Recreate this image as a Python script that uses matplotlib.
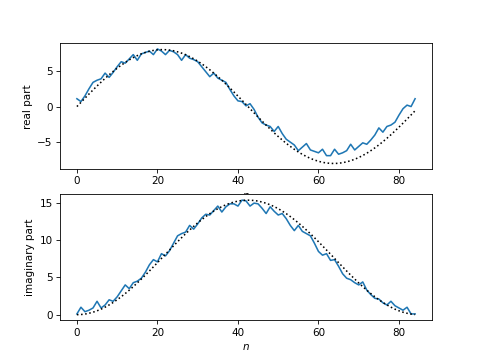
import numpy as np
import matplotlib
matplotlib.use('Agg')
import matplotlib.pyplot as plt

n = np.arange(85)

# noisy estimate (blue)
real_est = [1.1, 0.7, 1.5, 2.5, 3.4, 3.7, 3.9, 4.7, 4.1, 4.8,
            5.6, 6.3, 6.1, 6.7, 7.3, 6.5, 7.4, 7.6, 7.8, 7.3,
            8.1, 7.8, 7.3, 7.9, 7.7, 7.3, 6.5, 7.3, 6.8, 6.6,
            6.3, 5.6, 4.9, 4.2, 4.7, 4.0, 3.7, 3.4, 2.4, 1.5,
            0.8, 0.7, 0.1, 0.4, -0.4, -1.5, -2.3, -2.6, -2.8, -3.5,
            -2.8, -3.8, -4.6, -5.0, -5.4, -6.2, -5.7, -5.2, -6.1, -6.3,
            -6.5, -6.0, -6.9, -6.9, -6.0, -6.7, -6.5, -6.2, -5.3, -6.1,
            -5.6, -5.1, -5.3, -4.7, -4.0, -3.0, -3.6, -2.8, -2.6, -2.2,
            -1.2, -0.3, 0.2, 0.0, 1.1]
imag_est = [0.1, 1.0, 0.4, 0.6, 0.9, 1.8, 0.9, 1.3, 2.0, 1.8,
            2.4, 3.2, 4.0, 3.5, 4.3, 4.5, 4.9, 5.7, 6.7, 7.4,
            7.1, 8.2, 7.9, 8.6, 9.6, 10.6, 10.9, 11.1, 12.0, 11.5,
            12.2, 13.0, 13.5, 13.4, 14.0, 14.6, 13.8, 14.5, 14.9, 14.9,
            14.6, 15.4, 15.3, 14.6, 15.0, 14.9, 14.3, 13.6, 14.5, 13.9,
            13.4, 13.6, 12.9, 12.0, 11.3, 12.0, 11.2, 10.9, 10.6, 9.6,
            8.5, 8.0, 8.2, 7.3, 7.4, 6.5, 5.5, 4.9, 4.7, 4.3,
            4.0, 4.4, 3.3, 2.7, 2.2, 2.1, 1.6, 1.3, 1.8, 1.2,
            0.9, 0.6, 1.0, 0.1, 0.1]

# true values (dotted)
real_true = [0.0, 0.59, 1.18, 1.76, 2.33, 2.89, 3.43, 3.96, 4.46, 4.94,
             5.39, 5.81, 6.20, 6.56, 6.88, 7.16, 7.41, 7.61, 7.77, 7.89,
             7.97, 8.00, 7.99, 7.93, 7.84, 7.69, 7.51, 7.29, 7.02, 6.72,
             6.38, 6.01, 5.60, 5.17, 4.70, 4.21, 3.70, 3.16, 2.61, 2.05,
             1.47, 0.89, 0.30, -0.30, -0.89, -1.47, -2.05, -2.61, -3.16, -3.70,
             -4.21, -4.70, -5.17, -5.60, -6.01, -6.38, -6.72, -7.02, -7.29, -7.51,
             -7.69, -7.84, -7.93, -7.99, -8.00, -7.97, -7.89, -7.77, -7.61, -7.41,
             -7.16, -6.88, -6.56, -6.20, -5.81, -5.39, -4.94, -4.46, -3.96, -3.43,
             -2.89, -2.33, -1.76, -1.18, -0.59]
imag_true = [0.0, 0.02, 0.08, 0.19, 0.33, 0.52, 0.74, 1.01, 1.31, 1.64,
             2.01, 2.41, 2.84, 3.29, 3.77, 4.27, 4.79, 5.32, 5.87, 6.43,
             6.99, 7.56, 8.13, 8.69, 9.25, 9.81, 10.35, 10.88, 11.38, 11.87,
             12.34, 12.78, 13.19, 13.58, 13.93, 14.25, 14.53, 14.77, 14.98, 15.14,
             15.27, 15.35, 15.39, 15.39, 15.35, 15.27, 15.14, 14.98, 14.77, 14.53,
             14.25, 13.93, 13.58, 13.19, 12.78, 12.34, 11.87, 11.38, 10.88, 10.35,
             9.81, 9.25, 8.69, 8.13, 7.56, 6.99, 6.43, 5.87, 5.32, 4.79,
             4.27, 3.77, 3.29, 2.84, 2.41, 2.01, 1.64, 1.31, 1.01, 0.74,
             0.52, 0.33, 0.19, 0.08, 0.02]

fig = plt.figure(figsize=(6.4, 4.8), dpi=75)

ax1 = fig.add_subplot(2, 1, 1)
ax1.plot(n, real_est)
ax1.plot(n, real_true, 'k:')
ax1.set_xlabel('$n$')
ax1.set_ylabel('real part')

ax2 = fig.add_subplot(2, 1, 2)
ax2.plot(n, imag_est)
ax2.plot(n, imag_true, 'k:')
ax2.set_xlabel('$n$')
ax2.set_ylabel('imaginary part')

fig.savefig('out.png', dpi=75)
